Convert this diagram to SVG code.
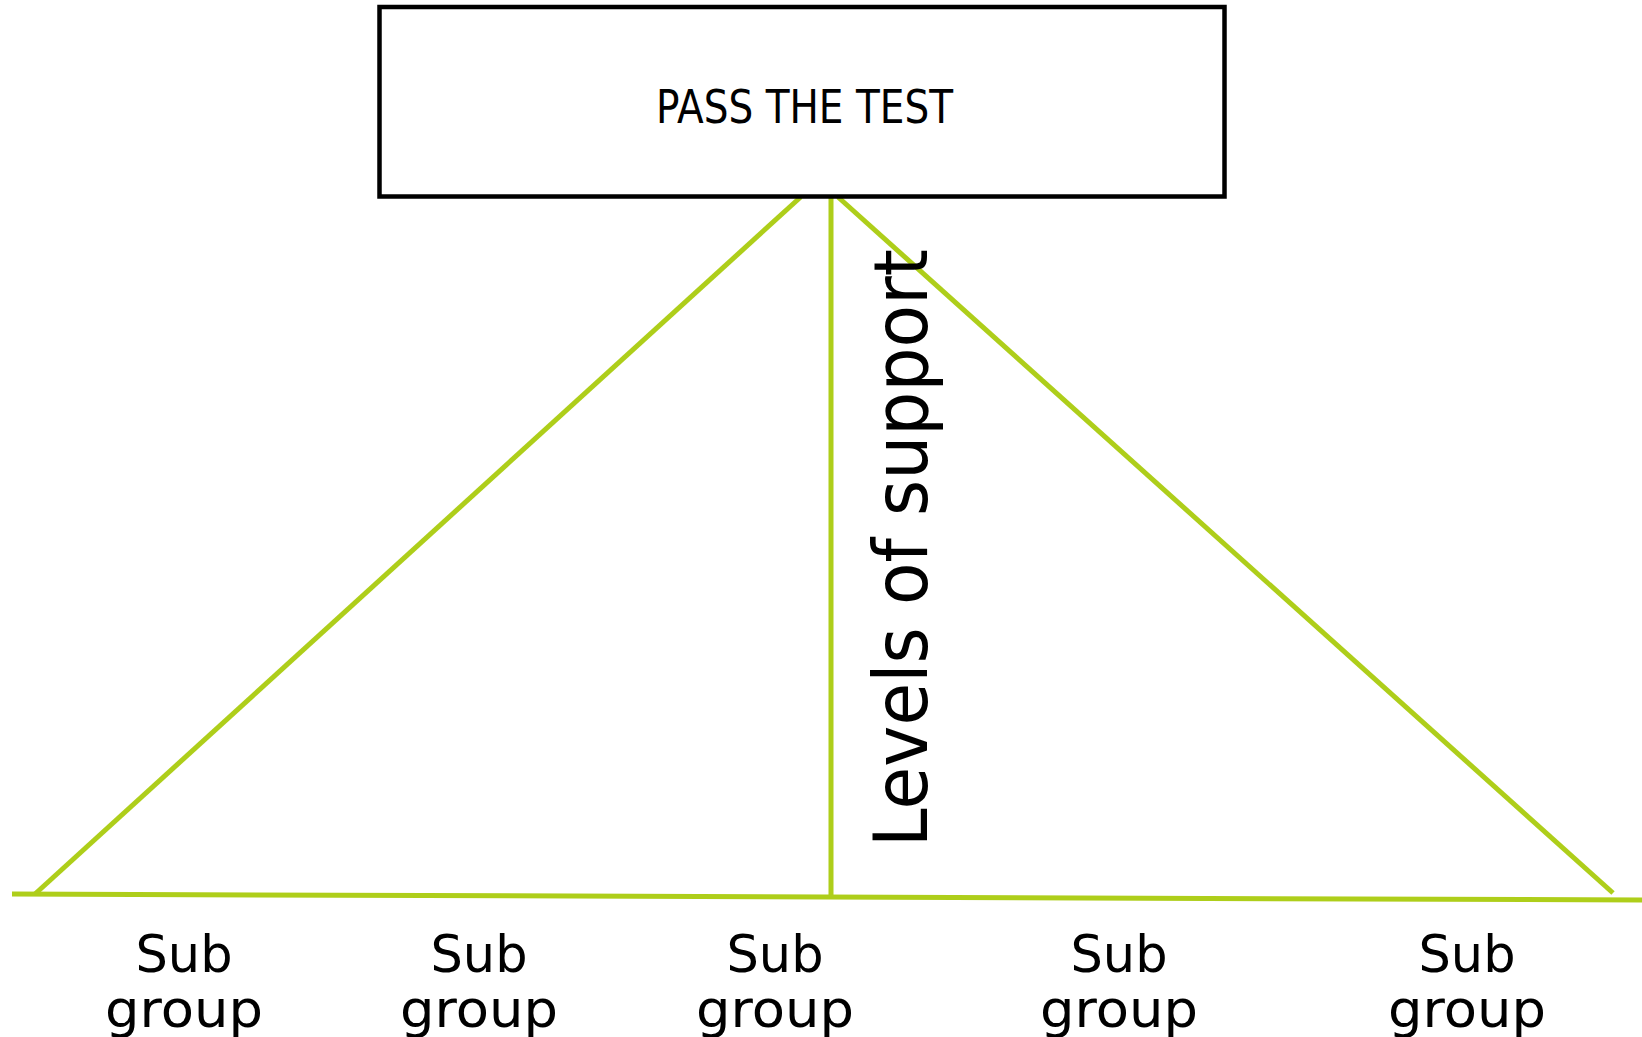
<svg xmlns="http://www.w3.org/2000/svg" width="1642" height="1037" viewBox="0 0 1642 1037">
<style>
.conn{stroke:#AECE1A;stroke-width:5;fill:none;stroke-linecap:butt}
.box{fill:#ffffff;stroke:#000000;stroke-width:4.5}
.lbl{font-family:"DejaVu Sans","Liberation Sans",sans-serif;fill:#000000}
.sub{font-size:51px;text-anchor:middle}
</style>
<rect width="1642" height="1037" fill="#ffffff"/>
<g id="connectors">
<line class="conn" x1="800.7" y1="197" x2="35" y2="894"/>
<line class="conn" x1="831" y1="197" x2="831" y2="897"/>
<line class="conn" x1="838" y1="197" x2="1613" y2="893"/>
<line class="conn" x1="12" y1="894" x2="1642" y2="900"/>
</g>
<g id="node-pass">
<rect class="box" x="379.5" y="7" width="845" height="189.5"/>
<text class="lbl" x="656" y="122.7" font-size="47" textLength="297" lengthAdjust="spacingAndGlyphs">PASS THE TEST</text>
</g>
<g id="label-levels">
<text class="lbl" transform="translate(927,847) rotate(-90)" x="0" y="0" font-size="75" textLength="598" lengthAdjust="spacingAndGlyphs">Levels of support</text>
</g>
<g id="node-sub1">
<text class="lbl sub"><tspan x="184" y="971.7">Sub</tspan><tspan x="184" y="1026.7" textLength="158" lengthAdjust="spacingAndGlyphs">group</tspan></text>
</g>
<g id="node-sub2">
<text class="lbl sub"><tspan x="479" y="971.7">Sub</tspan><tspan x="479" y="1026.7" textLength="158" lengthAdjust="spacingAndGlyphs">group</tspan></text>
</g>
<g id="node-sub3">
<text class="lbl sub"><tspan x="775" y="971.7">Sub</tspan><tspan x="775" y="1026.7" textLength="158" lengthAdjust="spacingAndGlyphs">group</tspan></text>
</g>
<g id="node-sub4">
<text class="lbl sub"><tspan x="1119" y="971.7">Sub</tspan><tspan x="1119" y="1026.7" textLength="158" lengthAdjust="spacingAndGlyphs">group</tspan></text>
</g>
<g id="node-sub5">
<text class="lbl sub"><tspan x="1467" y="971.7">Sub</tspan><tspan x="1467" y="1026.7" textLength="158" lengthAdjust="spacingAndGlyphs">group</tspan></text>
</g>
</svg>
